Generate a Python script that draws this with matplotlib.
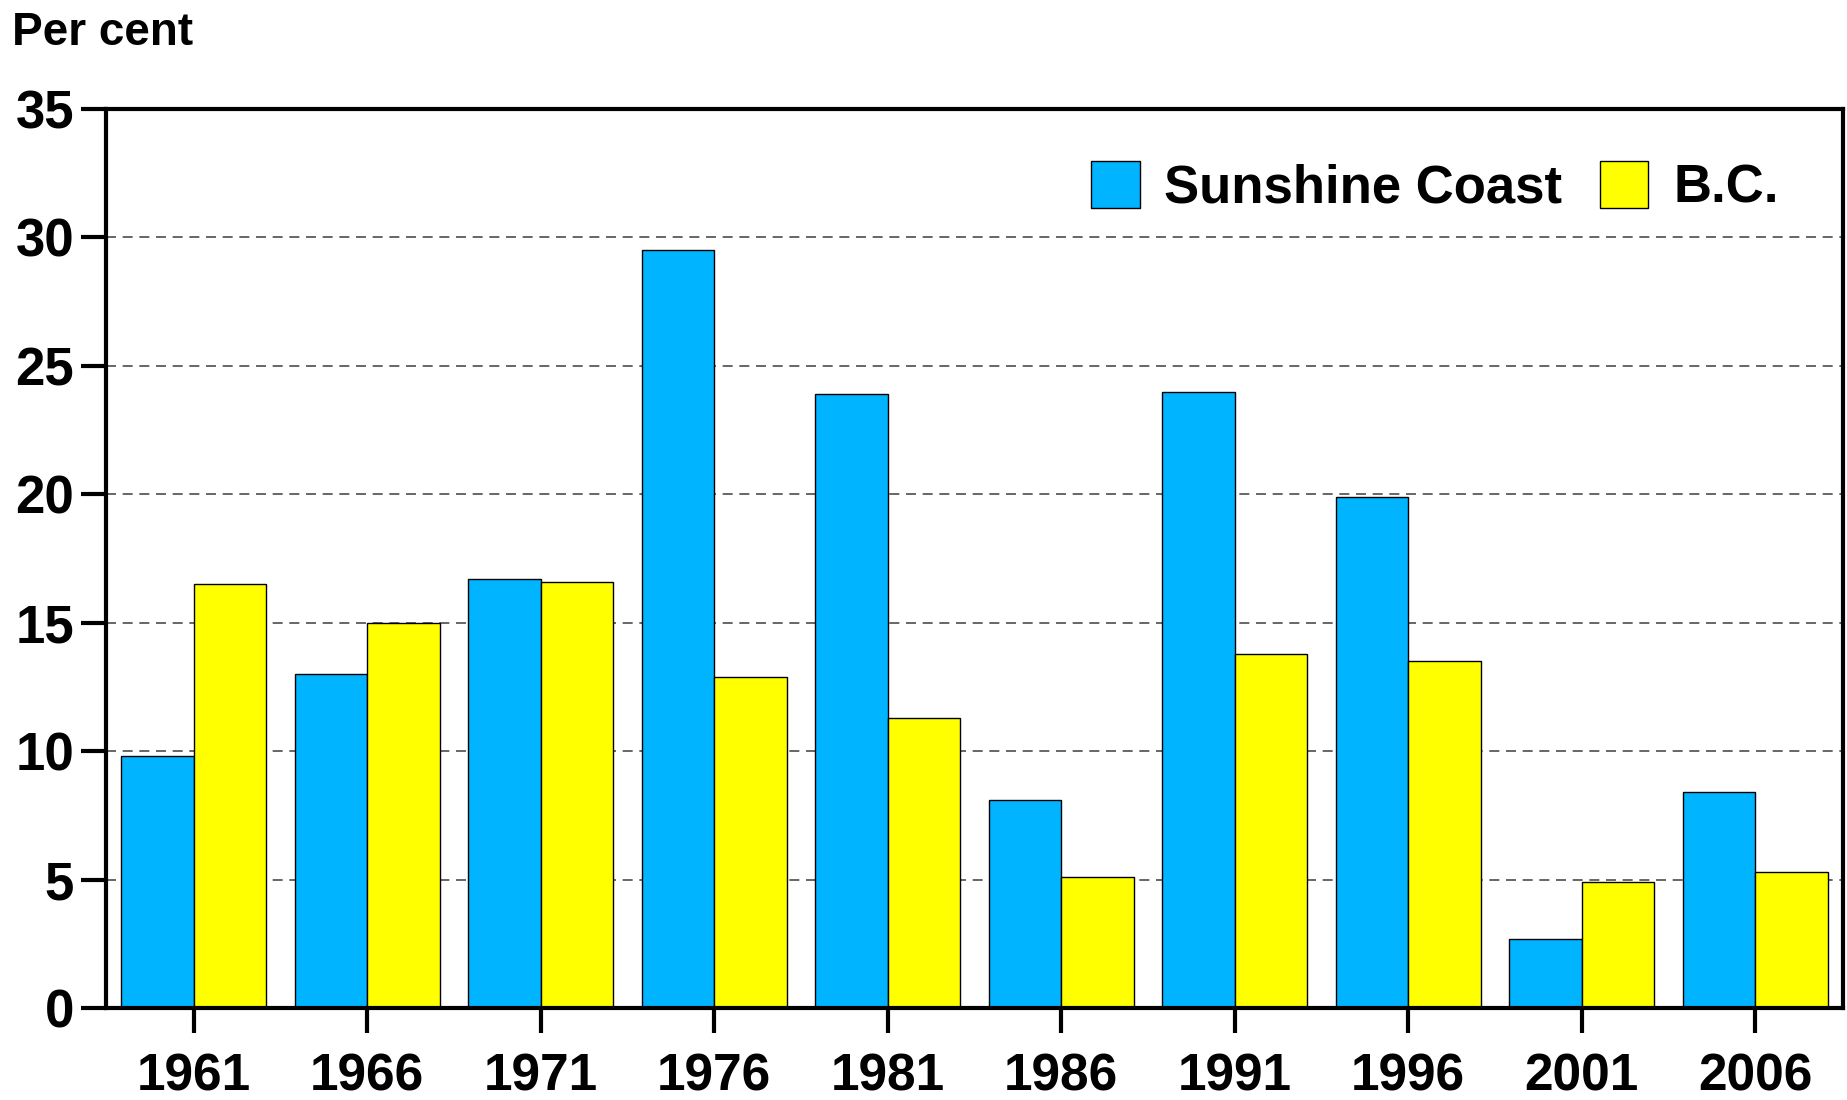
import numpy as np
import matplotlib
matplotlib.use("Agg")
import matplotlib.pyplot as plt

# data
years = ['1961', '1966', '1971', '1976', '1981', '1986', '1991', '1996', '2001', '2006']
sunshine_coast = [9.8, 13.0, 16.7, 29.5, 23.9, 8.1, 24.0, 19.9, 2.7, 8.4]
bc = [16.5, 15.0, 16.6, 12.9, 11.3, 5.1, 13.8, 13.5, 4.9, 5.3]

blue = '#00B4FF'
yellow = '#FFFF00'

plt.rcParams['font.family'] = ['Liberation Sans', 'DejaVu Sans']
plt.rcParams['font.weight'] = 'bold'

fig = plt.figure(figsize=(18.47, 11.0), dpi=100)
ax = fig.add_axes([0.0574, 0.0836, 0.9404, 0.8173])

x = np.arange(len(years))
w = 0.417
ax.bar(x - w / 2, sunshine_coast, w, color=blue, edgecolor='black', linewidth=1.0,
       label='Sunshine Coast', zorder=3)
ax.bar(x + w / 2, bc, w, color=yellow, edgecolor='black', linewidth=1.0,
       label='B.C.', zorder=3)

ax.set_xlim(-0.505, len(years) - 0.495)
ax.set_ylim(0, 35)
ax.set_yticks(range(0, 36, 5))
ax.set_xticks(x)
ax.set_xticklabels(years)

# dashed grid
for yv in range(5, 35, 5):
    ax.axhline(yv, color='#4d4d4d', linewidth=1.2, linestyle=(0, (6, 4)), zorder=1)

for s in ax.spines.values():
    s.set_linewidth(3.0)
    s.set_zorder(4)

ax.tick_params(axis='y', direction='out', length=18, width=3, pad=5, labelsize=38)
ax.tick_params(axis='x', direction='out', length=18, width=3, pad=14, labelsize=37)
for lab in ax.get_xticklabels() + ax.get_yticklabels():
    lab.set_fontweight('bold')

fig.text(0.0065, 1 - 33 / 1100, 'Per cent', fontsize=33, fontweight='bold',
         ha='left', va='center')

leg = ax.legend(loc='upper right', bbox_to_anchor=(0.963, 0.854),
                bbox_transform=fig.transFigure, ncol=2, frameon=False,
                handlelength=0.91, handleheight=1.0,
                handletextpad=0.47, columnspacing=0.72, borderpad=0,
                borderaxespad=0, prop={'weight': 'bold', 'size': 38})

fig.savefig('out.png', dpi=100)
